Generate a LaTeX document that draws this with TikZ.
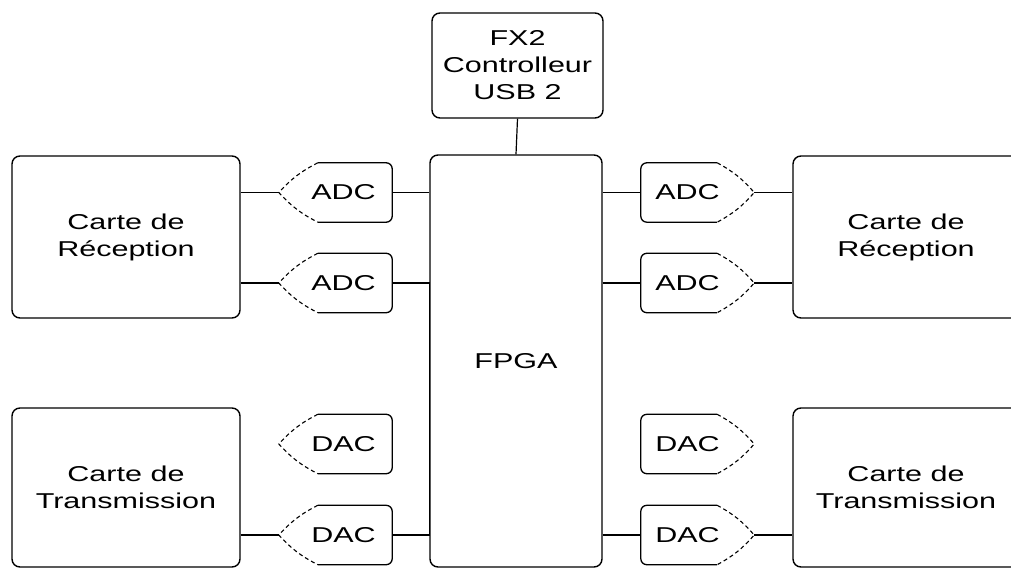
\documentclass[tikz,border=0pt]{standalone}
\usepackage{fontspec}
\setmainfont{Liberation Sans}
\newcommand\sx[1]{\scalebox{1.42}[1]{#1}}
\begin{document}
\begin{tikzpicture}[x=1pt,y=-1pt,
  box/.style={draw, line width=1.4pt, rounded corners=8pt, inner sep=0pt, align=center,
    font=\fontsize{21.5}{27}\selectfont},
  conv/.style={inner sep=0pt, minimum width=113pt, minimum height=59pt},
  shp/.style={line width=1.3pt, rounded corners=6pt},
  dsh/.style={line width=1.1pt, dash pattern=on 4pt off 3pt},
  lbl/.style={inner sep=0pt, font=\fontsize{21.5}{27}\selectfont},
  wire/.style={line width=1.2pt}]
\useasboundingbox (0,0) rectangle (1011,569);
\clip (0,0) rectangle (1011,569);

% main boxes
\node[box, minimum width=228pt, minimum height=162pt] (recL) at (126,237) {\sx{Carte de}\\\sx{Réception}};
\node[box, minimum width=228pt, minimum height=159pt] (transL) at (126,487.5) {\sx{Carte de}\\\sx{Transmission}};
\node[box, minimum width=226pt, minimum height=162pt] (recR) at (906,237) {\sx{Carte de}\\\sx{Réception}};
\node[box, minimum width=226pt, minimum height=159pt] (transR) at (906,487.5) {\sx{Carte de}\\\sx{Transmission}};
\node[box, minimum width=172pt, minimum height=412pt] (fpga) at (516,361) {\sx{FPGA}};
\node[box, minimum width=171pt, minimum height=105pt] (fx2) at (517.5,65.5) {\sx{FX2}\\\sx{Controlleur}\\\sx{USB 2}};

% converters (left side, pointing left)
\foreach \n/\y/\t in {adcL1/192.5/ADC, adcL2/283/ADC, dacL1/444/DAC, dacL2/535/DAC}{
  \node[conv] (\n) at (335.5,\y) {};
  \draw[shp] ([xshift=39pt]\n.north west) -- (\n.north east) -- (\n.south east) -- ([xshift=39pt]\n.south west);
  \draw[dsh] ([xshift=39pt]\n.north west) to[bend right=10] (\n.west) to[bend right=10] ([xshift=39pt]\n.south west);
  \node[lbl] (\n t) at ([xshift=8pt]\n.center) {\sx{\t}};
}
% converters (right side, pointing right)
\foreach \n/\y/\t in {adcR1/192.5/ADC, adcR2/283/ADC, dacR1/444/DAC, dacR2/535/DAC}{
  \node[conv] (\n) at (697.5,\y) {};
  \draw[shp] ([xshift=-37pt]\n.north east) -- (\n.north west) -- (\n.south west) -- ([xshift=-37pt]\n.south east);
  \draw[dsh] ([xshift=-37pt]\n.north east) to[bend left=10] (\n.east) to[bend left=10] ([xshift=-37pt]\n.south east);
  \node[lbl] (\n t) at ([xshift=-10pt]\n.center) {\sx{\t}};
}

% connectors
\draw[wire] (fx2.south) -- (fpga.north);
\draw[wire] (recL.east |- adcL1.west) -- (adcL1.west);
\draw[wire] (recL.east |- adcL2.west) -- (adcL2.west);
\draw[wire] (transL.east |- dacL2.west) -- (dacL2.west);
\draw[wire] (adcL1.east) -- (fpga.west |- adcL1.east);
\draw[wire] (adcL2.east) -- (fpga.west |- adcL2.east) -- (fpga.west |- dacL2.east) -- (dacL2.east);
\draw[wire] (fpga.east |- adcR1.west) -- (adcR1.west);
\draw[wire] (fpga.east |- adcR2.west) -- (adcR2.west);
\draw[wire] (fpga.east |- dacR2.west) -- (dacR2.west);
\draw[wire] (adcR1.east) -- (recR.west |- adcR1.east);
\draw[wire] (adcR2.east) -- (recR.west |- adcR2.east);
\draw[wire] (dacR2.east) -- (transR.west |- dacR2.east);
\end{tikzpicture}
\end{document}
